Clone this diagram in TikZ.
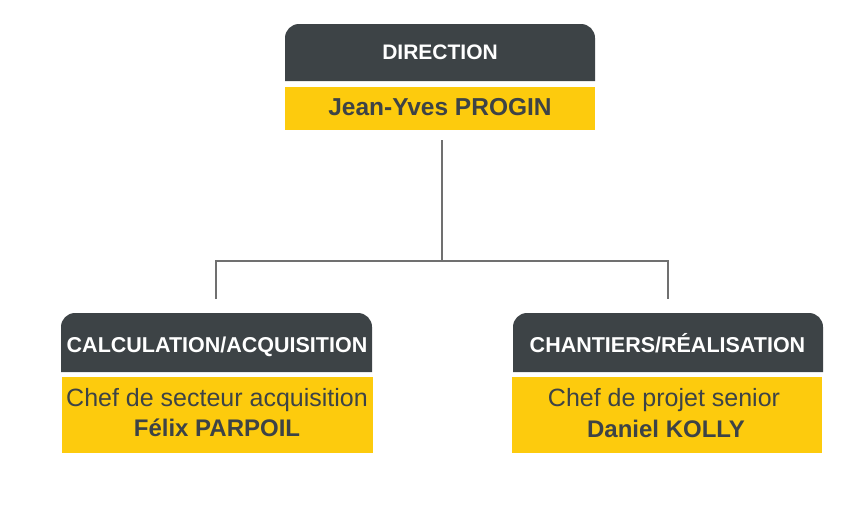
\documentclass[tikz,border=0pt]{standalone}
\usepackage{fontspec}
\setmainfont{Liberation Sans}
\definecolor{hdrgray}{HTML}{3D4346}
\definecolor{boxyellow}{HTML}{FDCB0D}
\definecolor{txtgray}{HTML}{3D4346}
\definecolor{linegray}{HTML}{707070}
\tikzset{
  hdrfill/.style={fill=hdrgray},
  yelfill/.style={fill=boxyellow},
  hdrtext/.style={text=white, font=\fontsize{21.5}{24}\selectfont\bfseries, anchor=base, inner sep=0pt},
  roletext/.style={text=txtgray, font=\fontsize{25}{28}\selectfont, anchor=base, inner sep=0pt},
  nametext/.style={text=txtgray, font=\fontsize{24}{28}\selectfont\bfseries, anchor=base, inner sep=0pt},
  conn/.style={draw=linegray, line width=1.3pt}
}
\begin{document}
\begin{tikzpicture}[x=1pt, y=-1pt]
\useasboundingbox (0,0) rectangle (862,520);
% top box
\fill[hdrfill] (285,81) [rounded corners=14pt] -- (285,24) -- (595,24) [sharp corners] -- (595,81) -- cycle;
\fill[yelfill] (285,87) rectangle (595,130);
\node[hdrtext, font=\fontsize{21}{24}\selectfont\bfseries] (dir) at (440,59.5) {DIRECTION};
\node[nametext, font=\fontsize{24.5}{28}\selectfont\bfseries] (progin) at (440,115.5) {Jean-Yves PROGIN};
% left box
\fill[hdrfill] (61,372) [rounded corners=14pt] -- (61,313) -- (372,313) [sharp corners] -- (372,372) -- cycle;
\fill[yelfill] (62,377) rectangle (373,453);
\node[hdrtext] (calc) at (217,352.5) {CALCULATION/ACQUISITION};
\node[roletext] (chefsec) at (217,406) {Chef de secteur acquisition};
\node[nametext] (felix) at (217,436) {Félix PARPOIL};
% right box
\fill[hdrfill] (513,372) [rounded corners=14pt] -- (513,313) -- (823,313) [sharp corners] -- (823,372) -- cycle;
\fill[yelfill] (512,377) rectangle (822,453);
\node[hdrtext] (chant) at (667.5,352.5) {CHANTIERS/RÉALISATION};
\node[roletext] (chefproj) at (664,406.5) {Chef de projet senior};
\node[nametext] (daniel) at (666,437) {Daniel KOLLY};
% connectors
\coordinate (topend) at (442,140);
\coordinate (mid) at (442,261);
\coordinate (lcorner) at (216,261);
\coordinate (rcorner) at (668,261);
\coordinate (lend) at (216,299);
\coordinate (rend) at (668,299);
\draw[conn] (topend) -- (mid);
\draw[conn] (lend) -- (lcorner) -- (rcorner) -- (rend);
\end{tikzpicture}
\end{document}
